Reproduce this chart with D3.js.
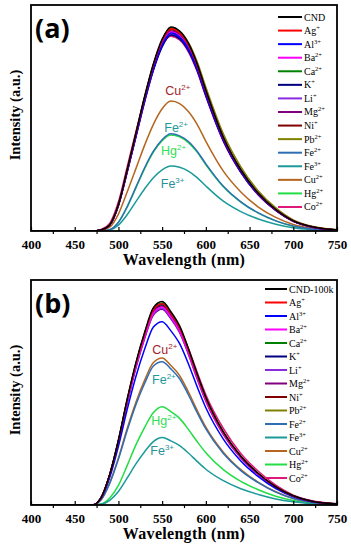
<!DOCTYPE html>
<html><head><meta charset="utf-8">
<script src="https://cdn.jsdelivr.net/npm/d3@7"></script>
<style>body{margin:0;background:#fff}svg{display:block}</style>
</head><body>
<svg id="c" width="351" height="550"></svg>
<script>
// ---------- DATA ----------
const wavelengths = [400,470,480,490,500,510,520,530,540,550,560,570,580,590,600,620,640,660,680,700,720,750];
const xTicks = [400,450,500,550,600,650,700,750];
const ionNames = ["CND","Ag","Al","Ba","Ca","K","Li","Mg","Ni","Pb","Fe","Fe","Cu","Hg","Co"];
const ionCharges = ["","+","3+","2+","2+","+","+","2+","+","2+","2+","3+","2+","2+","2+"];
const ionColors = ["#000000","#ff0000","#0000ff","#ff00ff","#008000","#000080","#8a2be2","#800080","#800000","#808000","#2f6db5","#1a9a9a","#b5651d","#22dd44","#e0187a"];
const namesB = ["CND-100k","Ag","Al","Ba","Ca","K","Li","Mg","Ni","Pb","Fe","Fe","Cu","Hg","Co"];

// panel (a) intensities (a.u., 0-100 scale)
const aCND = [0,0,0.5,2.7,11.7,27.1,43.3,59.6,74.0,84.9,90.3,88.5,83.1,74.0,62.3,41.5,27.1,16.7,9.5,4.5,2.0,0.5];
const aAg  = [0,0,0.4,2.7,11.6,26.9,43.0,59.1,73.4,84.1,89.5,87.7,82.3,73.4,61.8,41.2,26.9,16.6,9.4,4.5,2.0,0.4];
const aAl  = [0,0,0.4,2.6,11.4,26.3,42.0,57.8,71.8,82.3,87.6,85.8,80.6,71.8,60.4,40.3,26.3,16.2,9.2,4.4,1.9,0.4];
const aBa  = [0,0,0.4,2.6,11.5,26.4,42.3,58.1,72.2,82.8,88.1,86.3,81.1,72.2,60.8,40.5,26.4,16.3,9.3,4.4,1.9,0.4];
const aCa  = [0,0,0.4,2.7,11.7,26.9,43.1,59.3,73.6,84.4,89.8,88.0,82.6,73.6,62.0,41.3,26.9,16.6,9.4,4.5,2.0,0.4];
const aK   = [0,0,0.4,2.6,11.3,26.0,41.6,57.2,71.1,81.5,86.7,85.0,79.8,71.1,59.8,39.9,26.0,16.0,9.1,4.3,1.9,0.4];
const aLi  = [0,0,0.4,2.6,11.3,26.2,41.9,57.6,71.5,82.0,87.2,85.5,80.2,71.5,60.2,40.1,26.2,16.1,9.2,4.4,1.9,0.4];
const aMg  = [0,0,0.4,2.7,11.5,26.6,42.5,58.4,72.6,83.2,88.5,86.7,81.4,72.6,61.1,40.7,26.6,16.4,9.3,4.4,1.9,0.4];
const aNi  = [0,0,0.4,2.7,11.6,26.7,42.7,58.7,73.0,83.7,89.0,87.2,81.9,73.0,61.4,40.9,26.7,16.5,9.3,4.5,2.0,0.4];
const aPb  = [0,0,0.4,2.7,11.4,26.5,42.6,59.0,73.5,84.2,89.6,88.3,83.5,75.0,63.6,43.0,28.4,17.7,10.2,4.9,2.2,0.5];
const aFe2 = [0,0,0,0.6,3.9,10.8,19.4,28.0,35.3,40.4,43.0,42.1,39.6,35.3,29.7,19.8,12.9,8.0,4.5,2.2,0.9,0.2];
const aFe3 = [0,0,0,0.4,2.6,7.2,13.0,18.7,23.6,27.1,28.8,28.2,26.5,23.6,19.9,13.2,8.6,5.3,3.0,1.4,0.6,0.1];
const aCu  = [0,0,0.3,1.7,7.5,17.3,27.6,38.0,47.2,54.1,57.5,56.4,52.9,47.2,39.7,26.5,17.3,10.6,6.0,2.9,1.3,0.3];
const aHg  = [0,0,0,0.6,3.8,10.6,19.1,27.6,34.9,40.0,42.5,41.7,39.1,34.9,29.3,19.6,12.8,7.9,4.5,2.1,0.9,0.2];
const aCo  = [0,0,0.7,3.4,12.9,28.4,44.0,58.6,71.5,81.9,86.2,84.5,79.3,70.7,59.5,39.7,25.9,15.9,9.1,4.3,1.9,0.4];

// panel (b) intensities
const bCND = [0,0,3.2,13.6,28.9,47.0,63.3,76.8,87.7,90.4,85.9,79.6,69.6,58.3,47.9,32.5,21.7,14.0,8.1,4.1,1.8,0.5];
const bAg  = [0,0,3.1,13.4,28.6,46.5,62.7,76.1,86.8,89.5,85.0,78.8,68.9,57.7,47.4,32.2,21.5,13.9,8.1,4.0,1.8,0.4];
const bAl  = [0,0,2.9,12.2,26.1,42.4,57.1,69.3,79.1,81.5,77.4,71.7,62.8,52.6,43.2,29.3,19.6,12.6,7.3,3.7,1.6,0.4];
const bBa  = [0,0,3.1,13.2,28.2,45.8,61.6,74.8,85.4,88.0,83.6,77.4,67.8,56.8,46.6,31.7,21.1,13.6,7.9,4.0,1.8,0.4];
const bCa  = [0,0,3.1,13.5,28.7,46.7,62.9,76.3,87.1,89.8,85.3,79.0,69.1,57.9,47.6,32.3,21.6,13.9,8.1,4.0,1.8,0.4];
const bK   = [0,0,3.1,13.4,28.5,46.3,62.3,75.7,86.3,89.0,84.6,78.3,68.5,57.4,47.2,32.0,21.4,13.8,8.0,4.0,1.8,0.4];
const bLi  = [0,0,3.1,13.1,28.0,45.5,61.3,74.4,84.9,87.5,83.1,77.0,67.4,56.4,46.4,31.5,21.0,13.6,7.9,3.9,1.8,0.4];
const bMg  = [0,0,3.0,13.1,27.8,45.2,60.9,74.0,84.4,87.0,82.7,76.6,67.0,56.1,46.1,31.3,20.9,13.5,7.8,3.9,1.7,0.4];
const bNi  = [0,0,3.1,13.3,28.3,46.0,62.0,75.2,85.8,88.5,84.1,77.9,68.1,57.1,46.9,31.9,21.2,13.7,8.0,4.0,1.8,0.4];
const bPb  = [0,0,3.1,13.4,28.5,46.4,62.4,75.8,86.5,89.2,84.7,78.5,68.7,57.5,47.3,32.1,21.4,13.8,8.0,4.0,1.8,0.4];
const bFe2 = [0,0,2.2,9.6,20.4,33.1,44.6,54.1,61.8,63.7,60.5,56.1,49.0,41.1,33.8,22.9,15.3,9.9,5.7,2.9,1.3,0.3];
const bFe3 = [0,0,0.3,2.1,6.0,12.0,18.3,23.7,28.2,30.0,28.5,26.4,23.1,19.4,15.9,10.8,7.2,4.7,2.7,1.4,0.6,0.2];
const bCu  = [0,0,2.3,9.8,20.9,34.0,45.7,55.5,63.3,65.3,62.0,57.5,50.3,42.1,34.6,23.5,15.7,10.1,5.9,2.9,1.3,0.3];
const bHg  = [0,0,0.4,3.1,8.7,17.5,26.7,34.5,41.1,43.7,41.5,38.5,33.6,28.2,23.2,15.7,10.5,6.8,3.9,2.0,0.9,0.2];
const bCo  = [0,0,3.1,13.2,28.2,45.9,61.7,75.0,85.6,88.2,83.8,78.5,69.7,59.1,49.0,34.0,22.9,15.0,8.8,4.4,2.0,0.5];

// in-plot annotations: [name, charge, color, wavelength, intensity]
const annotA = [["Cu","2+","#a3242c",568,60],["Fe","2+","#1a9a9a",566,44],["Hg","2+","#33dd55",563,33.5],["Fe","3+","#2a8f9a",562,19]];
const annotB = [["Cu","2+","#a3242c",553,67],["Fe","2+","#1a9a9a",552,54],["Hg","2+","#33dd55",552,35.6],["Fe","3+","#2a8f9a",550,22.2]];

const seriesA = [aCND,aAg,aAl,aBa,aCa,aK,aLi,aMg,aNi,aPb,aFe2,aFe3,aCu,aHg,aCo];
const seriesB = [bCND,bAg,bAl,bBa,bCa,bK,bLi,bMg,bNi,bPb,bFe2,bFe3,bCu,bHg,bCo];

// ---------- DRAW ----------
const svg = d3.select("#c");
const serif = "'Liberation Serif','Times New Roman',serif";

function panel(cfg){
  const x = d3.scaleLinear().domain([400,750]).range([31,337]);
  const y = d3.scaleLinear().domain([0,100]).range([cfg.bottom,cfg.top]);
  const g = svg.append("g");
  const clipId = "clip"+cfg.tag;
  g.append("clipPath").attr("id",clipId).append("rect")
    .attr("x",31).attr("y",cfg.top).attr("width",306).attr("height",cfg.bottom-cfg.top);
  const line = d3.line().x((d,i)=>x(wavelengths[i])).y(d=>y(d)).curve(d3.curveMonotoneX);
  const cg = g.append("g").attr("clip-path",`url(#${clipId})`);
  const order = d3.range(cfg.series.length).reverse();
  order.forEach(i=>{
    cg.append("path").attr("d",line(cfg.series[i])).attr("fill","none")
      .attr("stroke",ionColors[i]).attr("stroke-width",1.5);
  });
  // frame
  g.append("rect").attr("x",31).attr("y",cfg.top).attr("width",306).attr("height",cfg.bottom-cfg.top)
    .attr("fill","none").attr("stroke","#000").attr("stroke-width",1.8);
  // axis
  const ax = d3.axisBottom(x).tickValues(xTicks).tickSize(-4).tickPadding(9);
  const axg = g.append("g").attr("transform",`translate(0,${cfg.bottom})`).call(ax);
  axg.select(".domain").remove();
  axg.selectAll("line").attr("stroke","#000").attr("stroke-width",1.2);
  axg.selectAll("text").attr("font-family",serif).attr("font-weight","bold").attr("font-size",13).attr("fill","#000");
  const minor = d3.axisBottom(x).tickValues(d3.range(425,750,50)).tickSize(3).tickFormat("");
  const mg = g.append("g").attr("transform",`translate(0,${cfg.bottom})`).call(minor);
  mg.select(".domain").remove();
  mg.selectAll("line").attr("stroke","#000").attr("stroke-width",1.2);
  // axis labels
  g.append("text").attr("x",184).attr("y",cfg.bottom+34).attr("text-anchor","middle")
    .attr("font-family",serif).attr("font-weight","bold").attr("font-size",16).attr("letter-spacing",0.3).text("Wavelength (nm)");
  g.append("text").attr("transform",`translate(20,${cfg.ycenter}) rotate(-90)`).attr("text-anchor","middle")
    .attr("font-family",serif).attr("font-weight","bold").attr("font-size",14.5).text("Intensity (a.u.)");
  // panel tag
  g.append("text").attr("x",35).attr("y",cfg.top+33).attr("font-family","'Open Sans','DejaVu Sans',sans-serif")
    .attr("font-weight","bold").attr("font-size",27).text(cfg.label);
  // legend
  cfg.names.forEach((n,i)=>{
    const yy = cfg.legTop + i*cfg.legStep;
    g.append("line").attr("x1",cfg.legX).attr("x2",cfg.legX+cfg.legLen).attr("y1",yy).attr("y2",yy)
      .attr("stroke",ionColors[i]).attr("stroke-width",2);
    const t = g.append("text").attr("x",cfg.legX+cfg.legLen+2).attr("y",yy+3.5).attr("font-family",serif).attr("font-size",10).attr("fill","#000");
    t.append("tspan").text(n);
    if(ionCharges[i]) t.append("tspan").attr("dy",-4).attr("font-size",6.5).text(ionCharges[i]);
  });
  // annotations
  cfg.annot.forEach(a=>{
    const t = g.append("text").attr("x",x(a[3])).attr("y",y(a[4])).attr("text-anchor","middle")
      .attr("font-family","'Liberation Sans',Arial,sans-serif").attr("font-size",12.5).attr("fill",a[2]);
    t.append("tspan").text(a[0]);
    t.append("tspan").attr("dy",-5).attr("font-size",8).text(a[1]);
  });
}

panel({tag:"a",top:5,bottom:231,ycenter:115,label:"(a)",series:seriesA,names:ionNames,legX:278,legLen:24,legTop:17,legStep:13.57,annot:annotA});
panel({tag:"b",top:280,bottom:505,ycenter:390,label:"(b)",series:seriesB,names:namesB,legX:265,legLen:22,legTop:289,legStep:13.5,annot:annotB});
</script>
</body></html>
